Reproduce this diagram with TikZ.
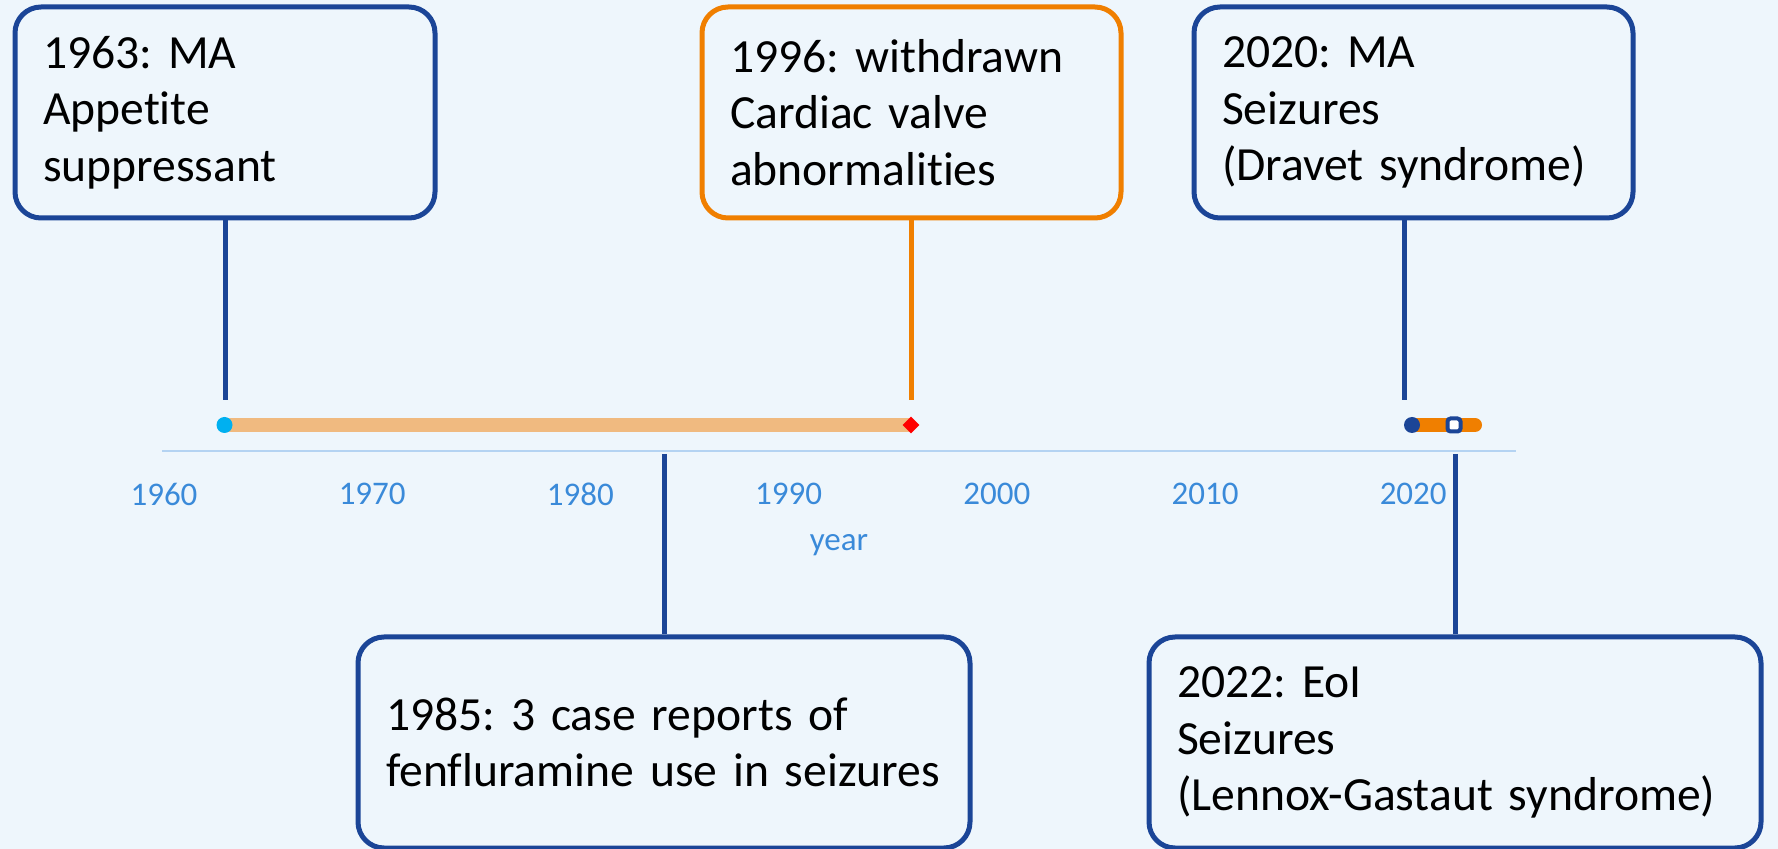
\documentclass[tikz,border=0pt]{standalone}
\usepackage{fontspec}
\setmainfont[Ligatures=NoCommon]{Carlito}
\usetikzlibrary{shapes.geometric}
\definecolor{bgblue}{HTML}{EEF6FC}
\definecolor{evblue}{HTML}{1B4597}
\definecolor{evorange}{HTML}{F07F00}
\definecolor{barorange}{HTML}{F0BA80}
\definecolor{dotcyan}{HTML}{00B0F0}
\definecolor{axisblue}{HTML}{B4D3F2}
\definecolor{ticktext}{HTML}{3A8AD9}
\frenchspacing

\begin{document}
\begin{tikzpicture}[x=0.5pt,y=-0.5pt,
  evbox/.style={draw=evblue,line width=2.5pt,rounded corners=13pt,fill=bgblue,minimum height=105.5pt,
    inner xsep=14pt,align=left,font=\fontsize{23.8}{28.3}\selectfont},
  link/.style={draw=evblue,line width=2.5pt},
  ticklbl/.style={text=ticktext,font=\fontsize{16.5}{19}\selectfont},
  dot/.style={circle,inner sep=0pt,minimum size=8pt}
]
\fill[bgblue] (0,0) rectangle (1778,849);
\useasboundingbox (0,0) rectangle (1778,849);

% axis and year labels
\coordinate (axl) at (162,451);
\coordinate (axr) at (1516,451);
\draw[axisblue,line width=1pt] (axl) -- (axr);
\foreach \yr in {1960,1970,...,2020}
  \node[ticklbl] (lbl\yr) at ({164+(\yr-1960)*20.82},494) {\yr};
\node[ticklbl] (yearlbl) at (839,545) {year};

% event boxes
\node[evbox,text width=182pt] (b1963) at (225,112.5) {1963: MA\\Appetite\\suppressant};
\node[evbox,draw=evorange,text width=181.5pt] (b1996) at (911.5,112.5) {1996: withdrawn\\Cardiac valve\\abnormalities};
\node[evbox,text width=191.5pt] (b2020) at (1413.5,112.5) {2020: MA\\Seizures\\(Dravet syndrome)};
\node[evbox,text width=278pt] (b1985) at (664,742.5) {1985: 3 case reports of\\fenfluramine use in seizures};
\node[evbox,text width=278pt] (b2022) at (1455,742.5) {2022: EoI\\Seizures\\(Lennox-Gastaut syndrome)};

% connector ends
\coordinate (t1963) at (225,400);
\coordinate (t1996) at (911.5,400);
\coordinate (t2020) at (1404,400);
\coordinate (t1985) at (664,454);
\coordinate (t2022) at (1455,454);

\draw[link] (b1963.south) -- (t1963);
\draw[link,draw=evorange] (b1996.south) -- (t1996);
\draw[link] (t2020 |- b2020.south) -- (t2020);
\draw[link] (t1985) -- (b1985.north);
\draw[link] (t2022) -- (b2022.north);

% bars and markers
\coordinate (e2023) at (1475,425);
\node[dot] (m1963) at (224.5,425) {};
\node[dot] (m2020) at (1412,425) {};
\draw[barorange,line width=7pt] (m1963.center) -- (911,425);
\draw[evorange,line width=7pt,line cap=round] (m2020.center) -- (e2023);
\node[dot,fill=dotcyan] at (m1963) {};
\node[diamond,fill=red,inner sep=0pt,minimum size=8.5pt] (m1996) at (911,425) {};
\node[dot,fill=evblue] at (m2020) {};
\node[rectangle,draw=evblue,fill=white,line width=2pt,rounded corners=1.5pt,inner sep=0pt,minimum size=6.5pt] (m2022) at (1454,425) {};
\end{tikzpicture}
\end{document}
